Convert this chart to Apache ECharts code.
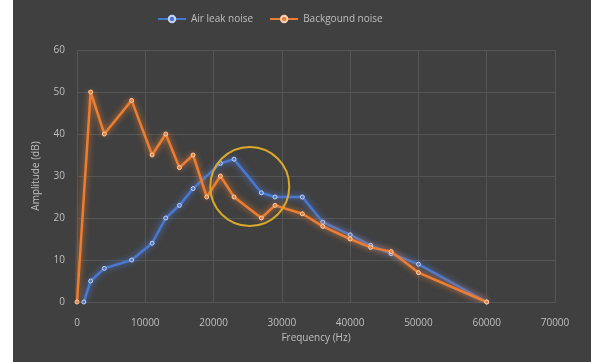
<!DOCTYPE html>
<html>
<head>
<meta charset="utf-8">
<script src="https://cdn.jsdelivr.net/npm/echarts@6/dist/echarts.min.js"></script>
<style>
html,body{margin:0;padding:0;background:#ffffff;}
#c{position:absolute;left:13px;top:0;width:578px;height:362px;}
</style>
</head>
<body>
<div id="c"></div>
<script>
const airFreq = [1000, 2000, 4000, 8000, 11000, 13000, 15000, 17000, 21000, 23000, 27000, 29000, 33000, 36000, 40000, 43000, 46000, 50000, 60000];
const airAmp  = [0, 5, 8, 10, 14, 20, 23, 27, 33, 34, 26, 25, 25, 19, 16, 13.5, 11.5, 9, 0];
const bgFreq  = [0, 2000, 4000, 8000, 11000, 13000, 15000, 17000, 19000, 21000, 23000, 27000, 29000, 33000, 36000, 40000, 43000, 46000, 50000, 60000];
const bgAmp   = [0, 50, 40, 48, 35, 40, 32, 35, 25, 30, 25, 20, 23, 21, 18, 15, 13, 12, 7, 0];
const highlight = [25300, 27.5];

const chart = echarts.init(document.getElementById('c'));
const txt = '#bfbfbf';
const font = 'Open Sans';
function pairs(xs, ys){ return xs.map((x,i)=>[x, ys[i]]); }
chart.setOption({
  backgroundColor: '#404040',
  animation: false,
  textStyle: {fontFamily: font},
  legend: {
    top: 9, left: 139, itemWidth: 28, itemHeight: 8, itemGap: 16,
    textStyle: {color: txt, fontSize: 10, fontFamily: font},
    data: ['Air leak noise', 'Backgound noise']
  },
  grid: {left: 64, right: 36, top: 50, bottom: 60},
  xAxis: {
    type: 'value', min: 0, max: 70000, interval: 10000,
    name: 'Frequency (Hz)', nameLocation: 'middle', nameGap: 29,
    nameTextStyle: {color: txt, fontSize: 10, fontFamily: font},
    axisLine: {show: false}, axisTick: {show: false},
    axisLabel: {color: txt, fontSize: 10, margin: 16, fontFamily: font, formatter: v => String(v)},
    splitLine: {show: true, lineStyle: {color: '#555555', width: 1}}
  },
  yAxis: {
    type: 'value', min: 0, max: 60, interval: 10,
    name: 'Amplitude (dB)', nameLocation: 'middle', nameGap: 36, nameRotate: 90,
    nameTextStyle: {color: txt, fontSize: 10, fontFamily: font},
    axisLine: {show: false}, axisTick: {show: false},
    axisLabel: {color: txt, fontSize: 10, margin: 12, fontFamily: font},
    splitLine: {show: true, lineStyle: {color: '#555555', width: 1}}
  },
  series: [
    {
      name: 'Air leak noise', type: 'line', data: pairs(airFreq, airAmp),
      symbol: 'circle', symbolSize: 4,
      itemStyle: {color: '#4a78d0', borderColor: '#c8d6f0', borderWidth: 1},
      lineStyle: {color: '#4a78d0', width: 2.5, shadowBlur: 6, shadowColor: 'rgba(80,130,230,0.9)'},
      z: 2
    },
    {
      name: 'Backgound noise', type: 'line', data: pairs(bgFreq, bgAmp),
      symbol: 'circle', symbolSize: 4,
      itemStyle: {color: '#ed7d31', borderColor: '#f7d2b6', borderWidth: 1},
      lineStyle: {color: '#ed7d31', width: 2.5, shadowBlur: 6, shadowColor: 'rgba(240,130,50,0.9)'},
      z: 3,
      markPoint: {
        silent: true,
        symbol: 'circle', symbolSize: 79,
        label: {show: false},
        itemStyle: {color: 'rgba(0,0,0,0)', borderColor: '#d9a92a', borderWidth: 2},
        data: [{coord: highlight}]
      }
    }
  ]
});
</script>
</body>
</html>
